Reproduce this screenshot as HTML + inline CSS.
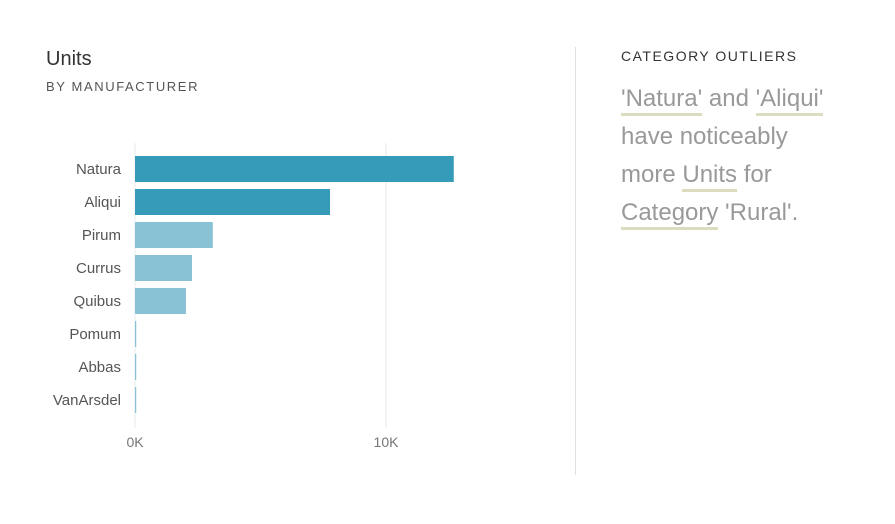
<!DOCTYPE html>
<html><head><meta charset="utf-8"><style>
body{margin:0;width:895px;height:524px;background:#fff;font-family:"Liberation Sans",sans-serif;position:relative;overflow:hidden}
.t{position:absolute;white-space:nowrap}
.u{border-bottom:3px solid #dcdcc0;padding-bottom:1px}
</style></head><body>
<div class="t" style="left:46px;top:48px;font-size:20px;color:#333">Units</div>
<div class="t" style="left:46px;top:79px;font-size:13px;letter-spacing:1.6px;color:#555">BY MANUFACTURER</div>
<svg id="chart" width="560" height="470" style="position:absolute;left:0;top:0"></svg>
<div style="position:absolute;left:575px;top:47px;width:1px;height:428px;background:#e0e0e0"></div>
<div class="t" style="left:621px;top:48px;font-size:14px;letter-spacing:1.5px;color:#333">CATEGORY OUTLIERS</div>
<div style="position:absolute;left:621px;top:80px;width:260px;font-size:24px;line-height:38px;color:#999">
<span class="u">'Natura'</span> and <span class="u">'Aliqui'</span><br>have noticeably<br>more <span class="u">Units</span> for<br><span class="u">Category</span> 'Rural'.</div>
<script>
const categories=["Natura","Aliqui","Pirum","Currus","Quibus","Pomum","Abbas","VanArsdel"];
const values=[12.7,7.77,3.1,2.27,2.03,0.05,0.05,0.05];
const highlighted=[true,true,false,false,false,false,false,false];
const ticks=[0,10];
const tickLabels=["0K","10K"];
const svg=document.getElementById('chart');const NS="http://www.w3.org/2000/svg";
const x0=135,pxPer=25.1,yTop=153,step=33,bh=26;
const xs=v=>x0+v*pxPer;
function mk(t,a){const e=document.createElementNS(NS,t);for(const k in a)e.setAttribute(k,a[k]);svg.appendChild(e);return e;}
ticks.forEach((t,i)=>{
const g=mk('line',{x1:xs(t),x2:xs(t),y1:143,y2:428,stroke:'#e8e8e8','stroke-width':1});


const l=mk('text',{x:xs(t),y:447,'text-anchor':'middle','font-size':14,fill:'#777','font-family':'Liberation Sans'});
l.textContent=tickLabels[i];


});
categories.forEach((c,i)=>{
const y=yTop+i*step+3;
const r=mk('rect',{x:x0,y:y,width:Math.max(1,xs(values[i])-x0),height:bh,fill:highlighted[i]?'#369bb9':'#89c2d4'});


const l=mk('text',{x:121,y:y+bh/2+5,'text-anchor':'end','font-size':15,fill:'#555','font-family':'Liberation Sans'});
l.textContent=c;


});
</script>
</body></html>
